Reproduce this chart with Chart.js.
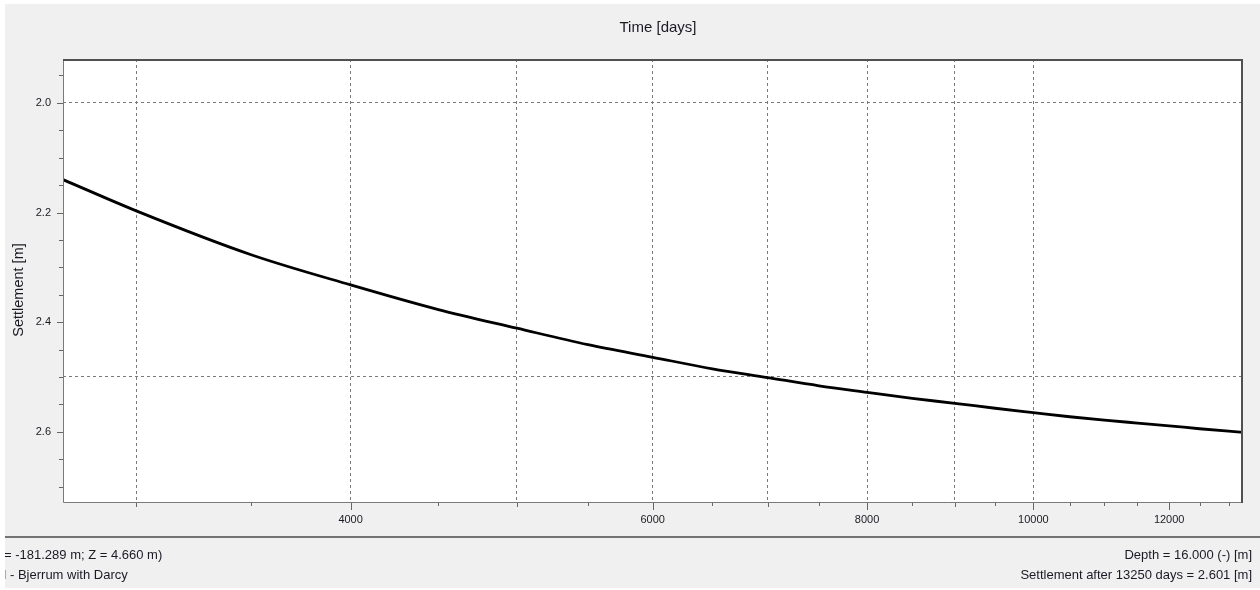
<!DOCTYPE html>
<html>
<head>
<meta charset="utf-8">
<script src="https://cdn.jsdelivr.net/npm/chart.js@4/dist/chart.umd.min.js"></script>
<style>
  html, body { margin: 0; padding: 0; background: #ffffff; overflow: hidden; }
  canvas { display: block; }
</style>
</head>
<body>
<canvas id="settlementChart" width="1260" height="590"></canvas>
<script>
// Settlement curve over time (log time axis, settlement increasing downwards)
const timeDays   = [2719, 3000, 3500, 4000, 4500, 5000, 5500, 6000, 6500, 7000, 7500,
                    8000, 8500, 9000, 9500, 10000, 10500, 11000, 11500, 12000, 12500, 13250];
const settlement = [2.140, 2.197, 2.277, 2.332, 2.377, 2.411, 2.441, 2.464, 2.485, 2.501, 2.516,
                    2.528, 2.539, 2.548, 2.557, 2.565, 2.5725, 2.5787, 2.584, 2.589, 2.5944, 2.601];

const timeRange = [2719, 13250];
const settlementRange = [1.92, 2.728];

const timeTicks = [3000, 3500, 4000, 4500, 5000, 5500, 6000, 6500, 7000, 7500, 8000,
                   8500, 9000, 9500, 10000, 10500, 11000, 11500, 12000, 12500, 13000];
const timeLabelled = [4000, 6000, 8000, 10000, 12000];
const timeGrid = [3000, 4000, 5000, 6000, 7000, 8000, 9000, 10000];

const settlementTicks = [1.95, 2.0, 2.05, 2.1, 2.15, 2.2, 2.25, 2.3, 2.35, 2.4,
                         2.45, 2.5, 2.55, 2.6, 2.65, 2.7];
const settlementLabelled = [2.0, 2.2, 2.4, 2.6];
const settlementGrid = [2.0, 2.5];

const xTitle = 'Time [days]';
const yTitle = 'Settlement [m]';
const footerLeft = ['= -181.289 m; Z = 4.660 m)', 'N - Bjerrum with Darcy'];
const footerRight = ['Depth = 16.000 (-) [m]', 'Settlement after 13250 days = 2.601 [m]'];

const FONT = '"Liberation Sans", Arial, sans-serif';
const TEXT = '#1a1a24';
const GRID = '#7a7a7a';

const has = (list, v) => list.some(x => Math.abs(x - v) < 1e-9);

const framePlugin = {
  id: 'frame',
  beforeDraw(chart) {
    const { ctx, chartArea: a } = chart;
    ctx.save();
    ctx.fillStyle = '#ffffff';
    ctx.fillRect(0, 0, 1260, 590);
    ctx.fillStyle = '#f0f0f0';
    ctx.fillRect(5, 4, 1255, 584);
    ctx.fillStyle = '#ffffff';
    ctx.fillRect(a.left, a.top, a.right - a.left, a.bottom - a.top);
    ctx.restore();
  },
  afterDraw(chart) {
    const { ctx, chartArea: a, scales } = chart;
    const xs = scales.x, ys = scales.y;
    ctx.save();

    // tick marks
    ctx.strokeStyle = '#666666';
    ctx.lineWidth = 1;
    ctx.beginPath();
    timeTicks.forEach(v => {
      const px = Math.round(xs.getPixelForValue(v)) + 0.5;
      const len = has(timeLabelled, v) ? 8 : (has(timeGrid, v) ? 5 : 4);
      ctx.moveTo(px, a.bottom);
      ctx.lineTo(px, a.bottom + len);
    });
    settlementTicks.forEach(v => {
      const py = Math.round(ys.getPixelForValue(v)) + 0.5;
      const len = has(settlementLabelled, v) ? 6 : 4;
      ctx.moveTo(a.left - len, py);
      ctx.lineTo(a.left, py);
    });
    ctx.stroke();

    // plot frame
    ctx.strokeStyle = '#7a7a7a';
    ctx.lineWidth = 1;
    ctx.beginPath();
    ctx.moveTo(a.left + 0.5, a.top);
    ctx.lineTo(a.left + 0.5, a.bottom + 0.5);
    ctx.lineTo(a.right, a.bottom + 0.5);
    ctx.stroke();
    ctx.strokeStyle = '#505050';
    ctx.lineWidth = 2;
    ctx.beginPath();
    ctx.moveTo(a.left, a.top + 1);
    ctx.lineTo(a.right - 1, a.top + 1);
    ctx.lineTo(a.right - 1, a.bottom + 1);
    ctx.stroke();

    // footer separator
    ctx.strokeStyle = '#4a4a4a';
    ctx.lineWidth = 1.5;
    ctx.beginPath();
    ctx.moveTo(5, 537);
    ctx.lineTo(1260, 537);
    ctx.stroke();

    // axis titles
    ctx.fillStyle = TEXT;
    ctx.textBaseline = 'middle';
    ctx.textAlign = 'center';
    ctx.font = '15px ' + FONT;
    ctx.fillText(xTitle, 658, 28);
    ctx.save();
    ctx.translate(19, 290);
    ctx.rotate(-Math.PI / 2);
    ctx.font = '14.5px ' + FONT;
    ctx.fillText(yTitle, 0, 0);
    ctx.restore();

    // footer text
    ctx.font = '13px ' + FONT;
    ctx.textAlign = 'right';
    ctx.fillText(footerRight[0], 1252, 555);
    ctx.fillText(footerRight[1], 1252, 575);
    ctx.save();
    ctx.beginPath();
    ctx.rect(5, 538, 1255, 50);
    ctx.clip();
    ctx.textAlign = 'left';
    ctx.fillText(footerLeft[0], 4, 555);
    ctx.fillText(footerLeft[1], -3, 575);
    ctx.restore();

    ctx.restore();
  }
};

new Chart(document.getElementById('settlementChart'), {
  type: 'line',
  data: {
    datasets: [{
      data: timeDays.map((t, i) => ({ x: t, y: settlement[i] })),
      borderColor: '#000000',
      borderWidth: 2.8,
      pointRadius: 0,
      cubicInterpolationMode: 'monotone',
      fill: false
    }]
  },
  options: {
    responsive: false,
    animation: false,
    devicePixelRatio: 1,
    layout: { padding: { left: 5, top: 59, right: 17, bottom: 53 } },
    plugins: { legend: { display: false }, tooltip: { enabled: false }, title: { display: false } },
    scales: {
      x: {
        type: 'logarithmic',
        min: timeRange[0],
        max: timeRange[1],
        afterBuildTicks: s => { s.ticks = timeTicks.map(v => ({ value: v })); },
        afterFit: s => { s.height = 35; },
        ticks: {
          autoSkip: false,
          maxRotation: 0,
          padding: 11,
          color: TEXT,
          font: { family: FONT, size: 11 },
          callback: v => has(timeLabelled, v) ? String(v) : ''
        },
        grid: {
          drawTicks: false,
          lineWidth: 1,
          color: c => (c.tick && has(timeGrid, c.tick.value)) ? GRID : 'rgba(0,0,0,0)'
        },
        border: { display: false, dash: [3, 3] }
      },
      y: {
        type: 'linear',
        reverse: true,
        min: settlementRange[0],
        max: settlementRange[1],
        afterBuildTicks: s => { s.ticks = settlementTicks.map(v => ({ value: v })); },
        afterFit: s => { s.width = 58; },
        ticks: {
          autoSkip: false,
          padding: 12,
          color: TEXT,
          font: { family: FONT, size: 11 },
          callback: v => has(settlementLabelled, v) ? v.toFixed(1) : ''
        },
        grid: {
          drawTicks: false,
          lineWidth: 1,
          color: c => (c.tick && has(settlementGrid, c.tick.value)) ? GRID : 'rgba(0,0,0,0)'
        },
        border: { display: false, dash: [3, 3] }
      }
    }
  },
  plugins: [framePlugin]
});
</script>
</body>
</html>
